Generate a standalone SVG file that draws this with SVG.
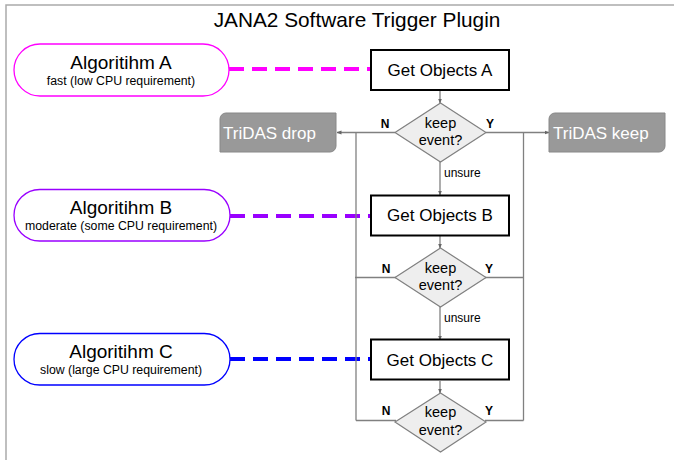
<svg xmlns="http://www.w3.org/2000/svg" width="674" height="460" viewBox="0 0 674 460">
<defs>
<style>
text{font-family:"Liberation Sans",Arial,sans-serif;fill:#000}
.pill{fill:#fff;stroke-width:1.3}
.t1{font-size:19px;text-anchor:middle}
.t2{font-size:12.3px;text-anchor:middle}
.box{fill:#fff;stroke:#000;stroke-width:2}
.bt{font-size:17px;text-anchor:middle}
.dia{fill:#eeeeee;stroke:#808080;stroke-width:1.2}
.dt{font-size:14.5px;text-anchor:middle}
.yn{font-size:12px;font-weight:bold;text-anchor:middle}
.us{font-size:12px}
.tri{fill:#999999;stroke:#888888;stroke-width:1}
.trt{font-size:17px;fill:#fff}
.ln{fill:none;stroke:#808080;stroke-width:1.3}
.dash{fill:none;stroke-width:4;stroke-dasharray:15 8}
</style>
<marker id="ah" viewBox="0 0 10 10" refX="9" refY="5" markerWidth="5" markerHeight="5" orient="auto" markerUnits="userSpaceOnUse">
<path d="M0,1 L10,5 L0,9 z" fill="#666"/>
</marker>
</defs>
<rect x="0" y="0" width="674" height="460" fill="#fff"/>
<rect x="6" y="5" width="720" height="500" fill="none" stroke="#aaaaaa" stroke-width="1.5"/>
<text x="357" y="27" font-size="20.8" text-anchor="middle">JANA2 Software Trigger Plugin</text>

<g id="connectors">
<line class="dash" x1="229" y1="69" x2="371" y2="69" stroke="#ff00ff"/>
<line class="dash" x1="230" y1="216" x2="371" y2="216" stroke="#9900ff"/>
<line class="dash" x1="230" y1="359" x2="371" y2="359" stroke="#0000ff"/>
<line class="ln" x1="440" y1="91" x2="440" y2="103" marker-end="url(#ah)"/>
<line class="ln" x1="440" y1="162" x2="440" y2="195" marker-end="url(#ah)"/>
<line class="ln" x1="440" y1="236" x2="440" y2="248" marker-end="url(#ah)"/>
<line class="ln" x1="440" y1="307" x2="440" y2="340" marker-end="url(#ah)"/>
<line class="ln" x1="440" y1="381" x2="440" y2="393" marker-end="url(#ah)"/>
<line class="ln" x1="395" y1="132.5" x2="337" y2="132.5" marker-end="url(#ah)"/>
<line class="ln" x1="486" y1="132.5" x2="549" y2="132.5" marker-end="url(#ah)"/>
<line class="ln" x1="356" y1="132.5" x2="356" y2="420.5"/>
<line class="ln" x1="523.5" y1="132.5" x2="523.5" y2="420.5"/>
<line class="ln" x1="355" y1="277.5" x2="396" y2="277.5"/>
<line class="ln" x1="485" y1="277.5" x2="524" y2="277.5"/>
<polyline class="ln" points="356,420.5 396,420.5"/>
<polyline class="ln" points="485,420.5 523.5,420.5"/>
</g>

<g id="algA">
<rect class="pill" x="14" y="44" width="215" height="52" rx="26" stroke="#ff00ff"/>
<text class="t1" x="121" y="69">Algoritihm A</text>
<text class="t2" x="121" y="85">fast (low CPU requirement)</text>
</g>
<g id="algB">
<rect class="pill" x="14" y="189.5" width="216" height="51.5" rx="25.75" stroke="#9900ff"/>
<text class="t1" x="121" y="213.5">Algoritihm B</text>
<text class="t2" x="121" y="230">moderate (some CPU requirement)</text>
</g>
<g id="algC">
<rect class="pill" x="14" y="333.5" width="216" height="51.5" rx="25.75" stroke="#0000ff"/>
<text class="t1" x="121" y="357.5">Algoritihm C</text>
<text class="t2" x="121" y="374">slow (large CPU requirement)</text>
</g>

<g id="getA">
<rect class="box" x="371" y="50" width="138" height="40"/>
<text class="bt" x="440" y="76">Get Objects A</text>
</g>
<g id="getB">
<rect class="box" x="371" y="195.5" width="138" height="40"/>
<text class="bt" x="440" y="221">Get Objects B</text>
</g>
<g id="getC">
<rect class="box" x="371" y="339.5" width="138" height="40"/>
<text class="bt" x="440" y="365.5">Get Objects C</text>
</g>

<g id="keep1">
<polygon class="dia" points="440.5,103 486,132.5 440.5,162 395,132.5"/>
<text class="dt" x="440.5" y="127.5">keep</text>
<text class="dt" x="440.5" y="145">event?</text>
<text class="yn" x="385" y="127.5">N</text>
<text class="yn" x="490" y="127.5">Y</text>
<text class="us" x="444" y="177">unsure</text>
</g>
<g id="keep2">
<polygon class="dia" points="440.5,248 486,277.5 440.5,307 395,277.5"/>
<text class="dt" x="440.5" y="272.5">keep</text>
<text class="dt" x="440.5" y="290">event?</text>
<text class="yn" x="386" y="273">N</text>
<text class="yn" x="489" y="273">Y</text>
<text class="us" x="444" y="322">unsure</text>
</g>
<g id="keep3">
<polygon class="dia" points="440.5,393 486,422 440.5,452 395,422"/>
<text class="dt" x="440.5" y="417">keep</text>
<text class="dt" x="440.5" y="435">event?</text>
<text class="yn" x="386" y="414.5">N</text>
<text class="yn" x="489" y="414.5">Y</text>
</g>

<g id="drop">
<path class="tri" d="M226,113 H336 V146 A6,6 0 0 1 330,152 H220 V119 A6,6 0 0 1 226,113 Z"/>
<text class="trt" x="223" y="138.5">TriDAS drop</text>
</g>
<g id="keep">
<path class="tri" d="M555,113 H665 V146 A6,6 0 0 1 659,152 H549 V119 A6,6 0 0 1 555,113 Z"/>
<text class="trt" x="553" y="138.5">TriDAS keep</text>
</g>
</svg>
